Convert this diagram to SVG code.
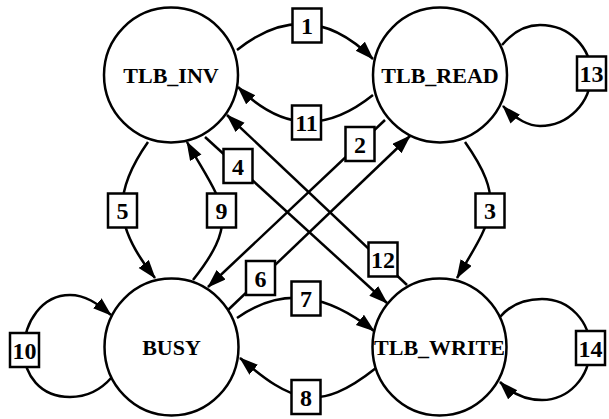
<svg xmlns="http://www.w3.org/2000/svg" width="609" height="419" viewBox="0 0 609 419">
<defs>
<style>
.node ellipse{fill:#fff;stroke:#000;stroke-width:2.5}
.node text{font-family:"Liberation Serif","Times New Roman",serif;font-weight:bold;font-size:22px;text-anchor:middle}
.lbl rect{fill:#fff;stroke:#000;stroke-width:2.5}
.lbl text{font-family:"Liberation Serif","Times New Roman",serif;font-weight:bold;font-size:24px;text-anchor:middle}
#edges path{fill:none;stroke:#000;stroke-width:2.5;marker-end:url(#arr)}
</style>
<marker id="arr" markerUnits="userSpaceOnUse" markerWidth="20" markerHeight="14" refX="18" refY="6.5" orient="auto">
<path d="M0,0 L19,6.5 L0,13 z" fill="#000"/>
</marker>
</defs>
<rect width="609" height="419" fill="#fff"/>
<g id="edges">
<path id="e1" d="M237,50 C285,11.5 330,16 373,59"/>
<path id="e11" d="M373,95 C328,131 284,133 238,87"/>
<path id="e5" d="M148,142 C111.5,194 114,227 155,278"/>
<path id="e9" d="M193,280 C243,217 221,203 187,142"/>
<path id="e3" d="M465,142 C507,202 492,219 457,278"/>
<path id="e7" d="M237,318 C284,285 328,294.5 374,331"/>
<path id="e8" d="M376,368 C318,414 292,402.5 240,358"/>
<path id="e10" d="M112,377 C100,391 86,397 70,397 C40,397 24,375 24,350 C24,322 42,295 70,295 C85,295 97,303 111,315"/>
<path id="e13" d="M502,45 C512,33 525,25 540,25 C570,25 591,48 591,74 C591,103 568,126 540,126 C530,126 516,120 503,106"/>
<path id="e14" d="M500,317 C510,305 525,299 542,299 C570,299 590,322 590,348 C590,378 568,400 542,400 C527,400 512,394 500,382"/>
<path id="e2" d="M385,120 L208,287"/>
<path id="e6" d="M228,310 L410,136"/>
<path id="e4" d="M205,137 L387,303"/>
<path id="e12" d="M407,285 L227,115"/>
</g>
<g id="TLB_INV" class="node"><ellipse cx="171" cy="75" rx="67" ry="67.5"/><text x="171" y="83">TLB_INV</text></g>
<g id="TLB_READ" class="node"><ellipse cx="440" cy="75" rx="67" ry="67.5"/><text x="440" y="83">TLB_READ</text></g>
<g id="BUSY" class="node"><ellipse cx="171.5" cy="347" rx="67" ry="68.5"/><text x="171.5" y="355">BUSY</text></g>
<g id="TLB_WRITE" class="node"><ellipse cx="439.5" cy="347" rx="67" ry="68.5"/><text x="439.5" y="355">TLB_WRITE</text></g>
<g id="L1" class="lbl"><rect x="292.5" y="8.5" width="29" height="34"/><text x="307" y="34">1</text></g>
<g id="L11" class="lbl"><rect x="292" y="105.5" width="29" height="34"/><text x="306.5" y="131">11</text></g>
<g id="L2" class="lbl"><rect x="345.5" y="127" width="29" height="34"/><text x="360" y="152.5">2</text></g>
<g id="L4" class="lbl"><rect x="223.5" y="149" width="29" height="34"/><text x="238" y="174.5">4</text></g>
<g id="L5" class="lbl"><rect x="108" y="193.5" width="29" height="34"/><text x="122.5" y="219">5</text></g>
<g id="L9" class="lbl"><rect x="207" y="193.5" width="29" height="34"/><text x="221.5" y="219">9</text></g>
<g id="L3" class="lbl"><rect x="475.5" y="193.5" width="29" height="34"/><text x="490" y="219">3</text></g>
<g id="L13" class="lbl"><rect x="577" y="56.5" width="29" height="34"/><text x="591.5" y="82">13</text></g>
<g id="L12" class="lbl"><rect x="368.5" y="242.5" width="29" height="34"/><text x="383" y="268">12</text></g>
<g id="L6" class="lbl"><rect x="246" y="261" width="29" height="34"/><text x="260.5" y="286.5">6</text></g>
<g id="L7" class="lbl"><rect x="291.5" y="281.5" width="29" height="34"/><text x="306" y="307">7</text></g>
<g id="L8" class="lbl"><rect x="291.5" y="380" width="29" height="34"/><text x="306" y="405.5">8</text></g>
<g id="L10" class="lbl"><rect x="10" y="333" width="29" height="34"/><text x="24.5" y="358.5">10</text></g>
<g id="L14" class="lbl"><rect x="576" y="331" width="29" height="34"/><text x="590.5" y="356.5">14</text></g>
</svg>
